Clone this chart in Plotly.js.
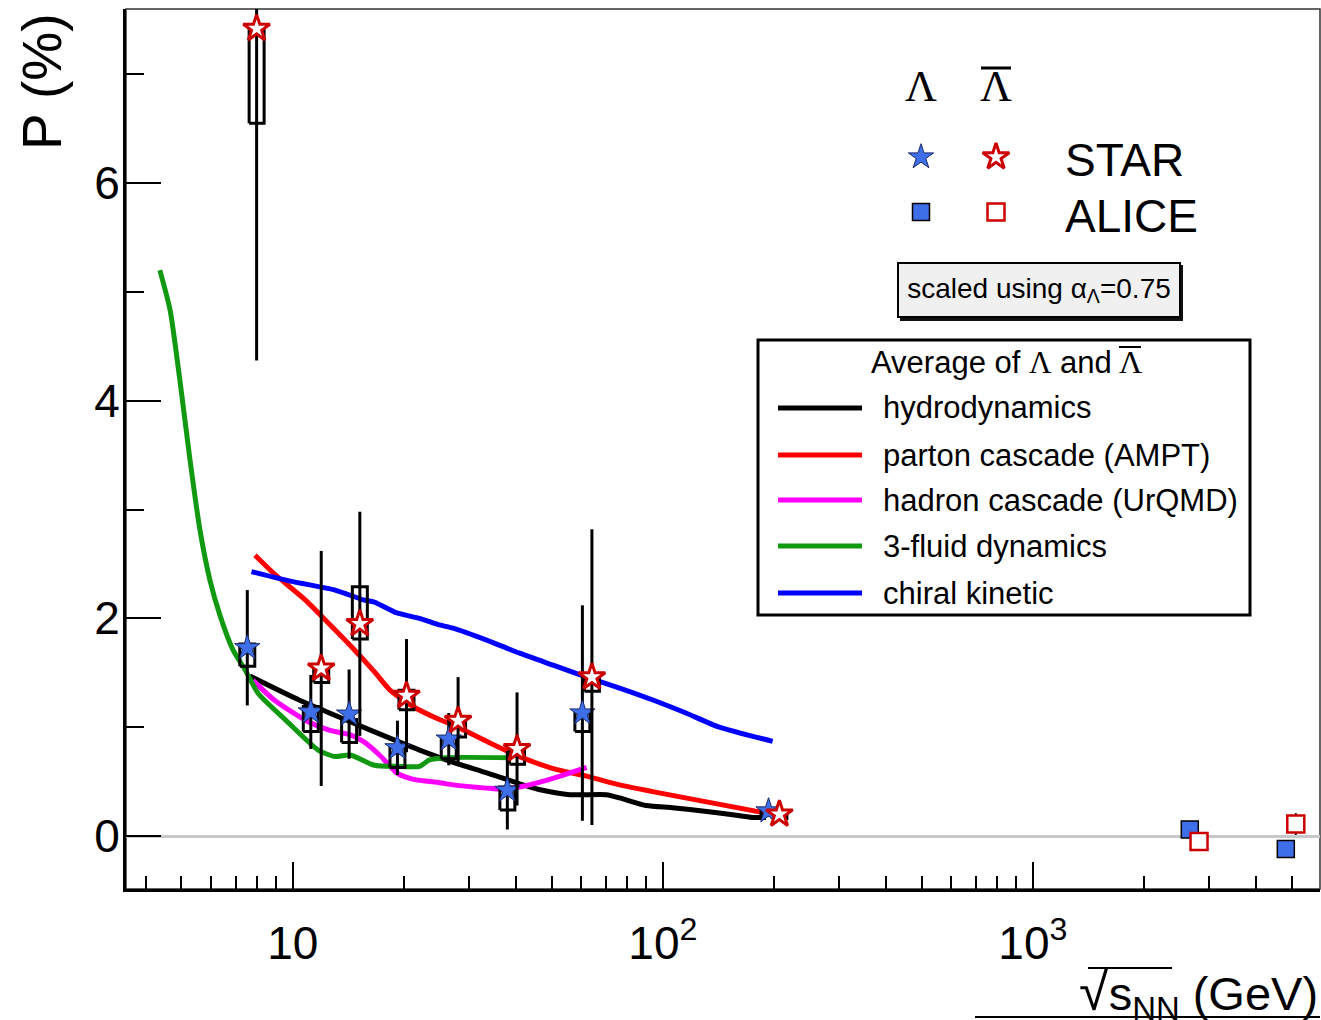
<!DOCTYPE html>
<html>
<head>
<meta charset="utf-8">
<script src="https://cdn.plot.ly/plotly-3.0.1.min.js"></script>
<style>html,body{margin:0;padding:0;background:#fff;}#chart{width:1321px;height:1020px;}</style>
</head>
<body>
<div id="chart"></div>
<script>
// ---------- data ----------
// STAR Lambda
const starLamX = [7.53, 11.18, 14.19, 19.17, 26.38, 37.99, 60.6, 193];
const starLamY = [1.73, 1.14, 1.12, 0.81, 0.89, 0.42, 1.13, 0.23];
const starLamStat = [0.53, 0.34, 0.41, 0.25, 0.24, 0.36, 0.99, 0.03];
const starLamSysLo = [1.56, 0.96, 0.86, 0.63, 0.71, 0.24, 0.96, 0.19];
const starLamSysHi = [1.765, 1.19, 1.07, 0.82, 0.91, 0.45, 1.13, 0.25];
// STAR anti-Lambda
const starALamX = [7.98, 11.93, 15.17, 20.28, 27.96, 40.35, 64.3, 206.5];
const starALamY = [7.42, 1.54, 1.95, 1.29, 1.06, 0.80, 1.46, 0.20];
const starALamStat = [3.05, 1.08, 1.03, 0.52, 0.40, 0.52, 1.36, 0.04];
const starALamSysLo = [6.55, 1.41, 1.81, 1.16, 0.91, 0.66, 1.33, 0.16];
const starALamSysHi = [7.45, 1.56, 2.29, 1.34, 1.09, 0.83, 1.46, 0.23];
// ALICE
const aliceLamX = [2655, 4826];
const aliceLamY = [0.06, -0.12];
const aliceLamErr = [0.02, 0.02];
const aliceALamX = [2812, 5135];
const aliceALamY = [-0.05, 0.11];
const aliceALamErr = [0.02, 0.10];
// Models (average of Lambda and anti-Lambda)
const hydroX = [7.65, 10.4, 14.3, 19.5, 22, 27, 33.4, 41, 47.3, 56, 70.3, 76.4, 90.2, 106, 128, 158, 175, 190];
const hydroY = [1.47, 1.25, 1.05, 0.86, 0.79, 0.68, 0.58, 0.48, 0.42, 0.38, 0.38, 0.35, 0.28, 0.26, 0.23, 0.19, 0.17, 0.17];
const amptX = [7.9, 8.9, 10.8, 12.2, 14.4, 16.6, 18.3, 21.1, 24.9, 27.1, 33.4, 41, 50.5, 62.2, 76.4, 115, 190];
const amptY = [2.58, 2.41, 2.17, 1.99, 1.74, 1.51, 1.34, 1.19, 1.07, 1.02, 0.87, 0.73, 0.62, 0.55, 0.47, 0.35, 0.21];
const urqmdX = [7.8, 8.9, 11.0, 12.6, 14.3, 15.5, 17.2, 19.1, 21.2, 24.9, 27.1, 33.4, 36.9, 41, 50.5, 62.2];
const urqmdY = [1.43, 1.25, 1.05, 0.97, 0.93, 0.87, 0.74, 0.58, 0.52, 0.49, 0.47, 0.44, 0.43, 0.45, 0.53, 0.63];
const fluidX = [4.37, 4.66, 4.95, 5.27, 5.61, 5.97, 6.35, 6.89, 7.42, 8.06, 9.53, 11.7, 13.0, 14.3, 16.6, 19.1, 22.0, 23.4, 25.9, 38.5];
const fluidY = [5.20, 4.83, 4.19, 3.46, 2.81, 2.35, 2.03, 1.71, 1.53, 1.31, 1.07, 0.79, 0.73, 0.745, 0.65, 0.64, 0.64, 0.70, 0.72, 0.72];
const chiralX = [7.73, 9.92, 13.0, 15.5, 16.6, 19.1, 22.0, 24.9, 27.1, 33.4, 41, 50.5, 62.2, 76.4, 94, 115.5, 142, 198];
const chiralY = [2.43, 2.34, 2.26, 2.17, 2.15, 2.05, 2.00, 1.94, 1.91, 1.80, 1.68, 1.57, 1.46, 1.36, 1.25, 1.13, 1.00, 0.87];
const modelNames = ["hydrodynamics", "parton cascade (AMPT)", "hadron cascade (UrQMD)", "3-fluid dynamics", "chiral kinetic"];
// axis tick labels
const xTickVals = [10, 100, 1000];
const xTickText = ["10", "10<sup>2</sup>", "10<sup>3</sup>"];

// ---------- styling / layout helpers ----------
const FONT = "Liberation Sans, Arial, Helvetica, sans-serif";
const SERIF = "Liberation Serif, Times New Roman, serif";
const modelColors = ["#000000", "#ff0000", "#ff00ff", "#119911", "#0000ff"];
const modelX = [hydroX, amptX, urqmdX, fluidX, chiralX];
const modelY = [hydroY, amptY, urqmdY, fluidY, chiralY];
const LAM_BLUE = "#3f6fe8";
const ALAM_RED = "#cc0000";
// pixel -> paper helpers (plot area: x 126..1320, y 9..889)
const PX = p => (p - 126) / 1194;
const PY = p => (889 - p) / 880;

const traces = [];
modelNames.forEach((n, i) => {
  traces.push({
    type: "scatter", mode: "lines", name: n,
    x: modelX[i], y: modelY[i],
    line: {color: modelColors[i], width: 5, shape: "spline", smoothing: 0.6},
    showlegend: false
  });
});

// systematic boxes (built from data arrays)
function sysBoxes(xs, lo, hi) {
  const f = Math.pow(10, 7.5 / 370.3);
  const bx = [], by = [];
  xs.forEach((x, i) => {
    bx.push(x / f, x * f, x * f, x / f, x / f, null);
    by.push(lo[i], lo[i], hi[i], hi[i], lo[i], null);
  });
  return {type: "scatter", mode: "lines", x: bx, y: by, showlegend: false,
          line: {color: "#000", width: 3}, hoverinfo: "skip"};
}
traces.push(sysBoxes(starLamX, starLamSysLo, starLamSysHi));
traces.push(sysBoxes(starALamX, starALamSysLo, starALamSysHi));

const starLamMarker = {symbol: "star", size: 19, color: LAM_BLUE, line: {color: "#1a2a6a", width: 1}};
const starALamMarker = {symbol: "star", size: 20, color: "#ffffff", line: {color: ALAM_RED, width: 3}};
const aliceLamMarker = {symbol: "square", size: 17, color: LAM_BLUE, line: {color: "#000", width: 1.5}};
const aliceALamMarker = {symbol: "square", size: 17, color: "#ffffff", line: {color: ALAM_RED, width: 2.5}};

// STAR points
traces.push({type: "scatter", mode: "markers", x: starLamX, y: starLamY, showlegend: false,
  error_y: {type: "data", array: starLamStat, color: "#000", thickness: 3, width: 0}, marker: starLamMarker});
traces.push({type: "scatter", mode: "markers", x: starALamX, y: starALamY, showlegend: false,
  error_y: {type: "data", array: starALamStat, color: "#000", thickness: 3, width: 0}, marker: starALamMarker});
// ALICE points
traces.push({type: "scatter", mode: "markers", x: aliceLamX, y: aliceLamY, showlegend: false,
  error_y: {type: "data", array: aliceLamErr, color: "#000", thickness: 2, width: 0}, marker: aliceLamMarker});
traces.push({type: "scatter", mode: "markers", x: aliceALamX, y: aliceALamY, showlegend: false,
  error_y: {type: "data", array: aliceALamErr, color: "#000", thickness: 2, width: 0}, marker: aliceALamMarker});

// ---------- legend keys (overlay axis in paper units) ----------
const keyColX = [PX(921), PX(996)];
const keyStarY = PY(157), keySqY = PY(212);
[[keyColX[0], keyStarY, starLamMarker], [keyColX[1], keyStarY, starALamMarker],
 [keyColX[0], keySqY, aliceLamMarker], [keyColX[1], keySqY, aliceALamMarker]].forEach(k => {
  traces.push({type: "scatter", mode: "markers", xaxis: "x2", yaxis: "y2", showlegend: false,
               x: [k[0]], y: [k[1]], marker: k[2], hoverinfo: "skip"});
});
const legRowY = [408, 455, 500, 546, 593].map(PY);
modelNames.forEach((n, i) => {
  traces.push({type: "scatter", mode: "lines", xaxis: "x2", yaxis: "y2", showlegend: false,
               x: [PX(778), PX(862)], y: [legRowY[i], legRowY[i]],
               line: {color: modelColors[i], width: 5}, hoverinfo: "skip"});
});

// minor ticks for log axis
const xMinor = [];
[1, 10, 100, 1000].forEach(d => { for (let k = 2; k <= 9; k++) xMinor.push(k * d); });

const annotations = [
  {xref: "paper", yref: "paper", x: PX(42), y: PY(82), text: "P (%)", textangle: -90, showarrow: false,
   font: {size: 55, family: FONT}, xanchor: "center", yanchor: "middle"},
  {xref: "paper", yref: "paper", x: 1.0, y: PY(994), text: "<span style='font-size:54px'>√</span>s<sub>NN</sub> (GeV)", showarrow: false,
   font: {size: 47, family: FONT}, xanchor: "right", yanchor: "middle"},
  {xref: "paper", yref: "paper", x: PX(921), y: PY(87), text: "Λ", showarrow: false,
   font: {size: 44, family: SERIF}, xanchor: "center", yanchor: "middle"},
  {xref: "paper", yref: "paper", x: PX(996), y: PY(87), text: "Λ", showarrow: false,
   font: {size: 44, family: SERIF}, xanchor: "center", yanchor: "middle"},
  {xref: "paper", yref: "paper", x: PX(1063), y: PY(160), text: "STAR", showarrow: false,
   font: {size: 46, family: FONT}, xanchor: "left", yanchor: "middle"},
  {xref: "paper", yref: "paper", x: PX(1063), y: PY(216), text: "ALICE", showarrow: false,
   font: {size: 46, family: FONT}, xanchor: "left", yanchor: "middle"},
  {xref: "paper", yref: "paper", x: PX(1039), y: PY(290), text: "scaled using α<sub>Λ</sub>=0.75", showarrow: false,
   font: {size: 28, family: FONT}, xanchor: "center", yanchor: "middle",
   bgcolor: "#f0f0f0", bordercolor: "#000", borderwidth: 2, width: 278, height: 50},
  // legend title
  {xref: "paper", yref: "paper", x: PX(869), y: PY(362), text: "Average of <span style='font-family:Liberation Serif'>Λ</span> and", showarrow: false,
   font: {size: 31, family: FONT}, xanchor: "left", yanchor: "middle"},
  {xref: "paper", yref: "paper", x: PX(1130), y: PY(362), text: "Λ", showarrow: false,
   font: {size: 32, family: SERIF}, xanchor: "center", yanchor: "middle"}
];
modelNames.forEach((n, i) => {
  annotations.push({xref: "paper", yref: "paper", x: PX(881), y: legRowY[i], text: n, showarrow: false,
    font: {size: 31, family: FONT}, xanchor: "left", yanchor: "middle"});
});

const layout = {
  width: 1321, height: 1020,
  margin: {l: 126, r: 1, t: 9, b: 131},
  paper_bgcolor: "#fff", plot_bgcolor: "#fff",
  font: {family: FONT, color: "#000"},
  showlegend: false,
  xaxis: {
    type: "log", range: [Math.log10(3.54), Math.log10(5970)],
    tickmode: "array", tickvals: xTickVals, ticktext: xTickText,
    ticks: "inside", ticklen: 27, tickwidth: 2, tickcolor: "#000",
    minor: {tickmode: "array", tickvals: xMinor, ticks: "inside", ticklen: 13, tickwidth: 2, tickcolor: "#000", showgrid: false},
    showline: true, linewidth: 3, linecolor: "#000",
    showgrid: false, zeroline: false,
    tickfont: {size: 46, family: FONT}, ticklabelstandoff: 12
  },
  yaxis: {
    range: [-0.487, 7.60], tick0: 0, dtick: 2,
    ticks: "inside", ticklen: 35, tickwidth: 2, tickcolor: "#000",
    minor: {dtick: 1, ticks: "inside", ticklen: 18, tickwidth: 2, tickcolor: "#000", showgrid: false},
    showline: true, linewidth: 3, linecolor: "#000",
    showgrid: false, zeroline: true, zerolinecolor: "#c8c8c8", zerolinewidth: 3,
    tickfont: {size: 46, family: FONT}, ticklabelstandoff: -6
  },
  xaxis2: {overlaying: "x", range: [0, 1], visible: false, fixedrange: true},
  yaxis2: {overlaying: "y", range: [0, 1], visible: false, fixedrange: true},
  annotations: annotations,
  shapes: [
    // frame (top/right)
    {type: "rect", xref: "paper", yref: "paper", x0: 0, x1: 1, y0: 0, y1: 1, line: {color: "#333", width: 1.5}, layer: "below"},
    // overline for anti-Lambda header
    {type: "line", xref: "paper", yref: "paper", x0: PX(981), x1: PX(1011), y0: PY(68), y1: PY(68), line: {color: "#000", width: 3}},
    // shadow of the scaled box
    {type: "rect", xref: "paper", yref: "paper", x0: PX(900), x1: PX(1183), y0: PY(321), y1: PY(265), fillcolor: "#111", line: {width: 0}},
    // legend box
    {type: "rect", xref: "paper", yref: "paper", x0: PX(758), x1: PX(1250), y0: PY(615), y1: PY(340), fillcolor: "#fff", line: {color: "#000", width: 3}, layer: "below"},
    // overline of anti-Lambda in legend title
    {type: "line", xref: "paper", yref: "paper", x0: PX(1119), x1: PX(1141), y0: PY(347), y1: PY(347), line: {color: "#000", width: 2}},
    // sqrt overline
    {type: "line", xref: "paper", yref: "paper", x0: PX(1088), x1: PX(1172), y0: PY(968), y1: PY(968), line: {color: "#000", width: 2}},
    // bottom line
    {type: "line", xref: "paper", yref: "paper", x0: PX(975), x1: 1.0, y0: PY(1017), y1: PY(1017), line: {color: "#000", width: 2}}
  ]
};

Plotly.newPlot("chart", traces, layout, {staticPlot: true, displayModeBar: false});
</script>
</body>
</html>
